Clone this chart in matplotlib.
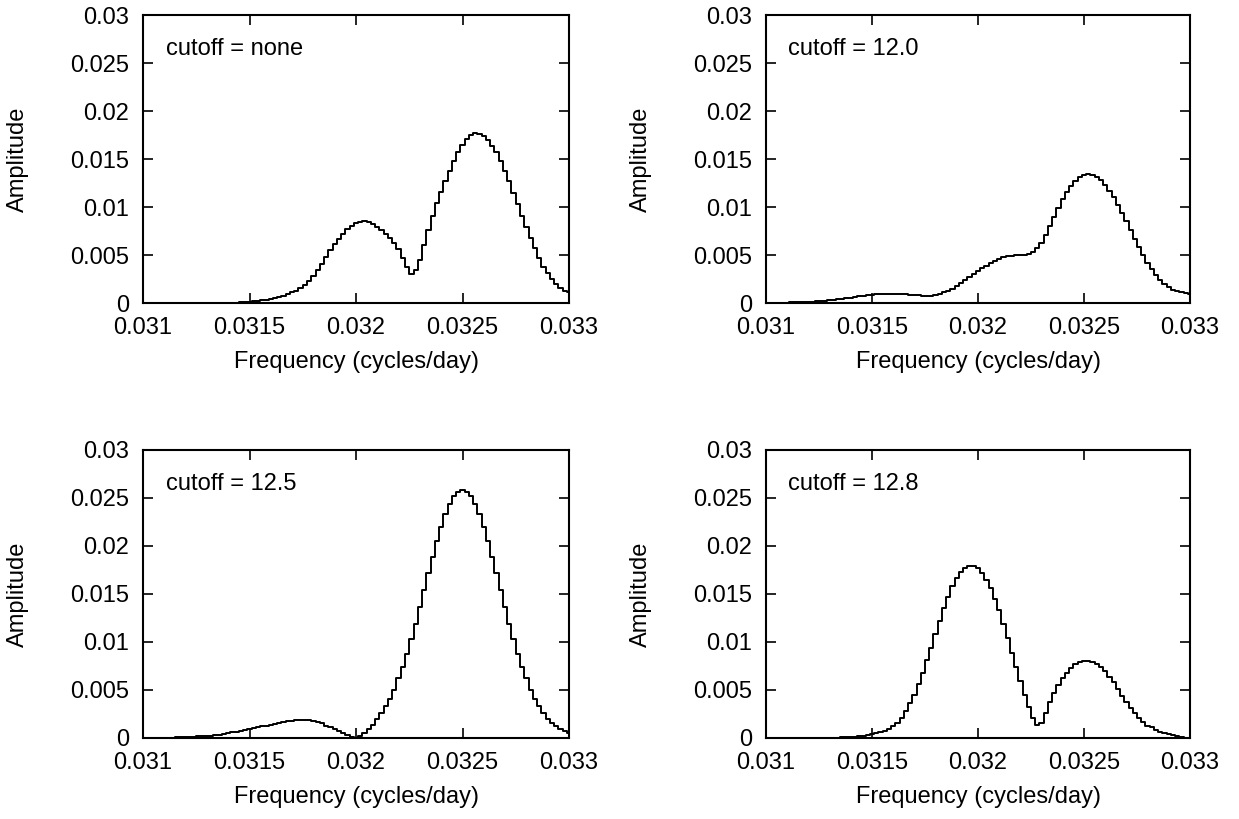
import numpy as np
import matplotlib
matplotlib.use("Agg")
import matplotlib.pyplot as plt
from matplotlib.ticker import FixedLocator, FixedFormatter

plt.rcParams['font.family'] = ['Liberation Sans', 'DejaVu Sans']

# frequency grid (cycles/day), one sample per step
freq = np.linspace(0.031, 0.033, 101)

amp_none = [
    0.0, 0.0, 0.0, 0.0, 0.0, 0.0, 0.0, 0.0, 0.0, 0.0,
    0.0, 0.0, 0.0, 0.0, 0.0, 0.0, 0.0, 0.00001, 0.00001, 0.00002,
    0.00002, 0.00003, 0.00005, 0.00007, 0.0001, 0.00013, 0.00017, 0.00022, 0.00028, 0.00035,
    0.00043, 0.00052, 0.00063, 0.00076, 0.0009, 0.0011, 0.0013, 0.0016, 0.0019, 0.0023,
    0.0028, 0.0034, 0.0041, 0.0048, 0.0055, 0.0061, 0.0067, 0.0072, 0.0077, 0.0080,
    0.0083, 0.0084, 0.0085, 0.0084, 0.0082, 0.0079, 0.0076, 0.0072, 0.0068, 0.0063,
    0.0056, 0.0047, 0.0038, 0.0030, 0.0034, 0.0045, 0.0060, 0.0076, 0.0091, 0.0104,
    0.0116, 0.0127, 0.0138, 0.0148, 0.0157, 0.0165, 0.0171, 0.0175, 0.0177, 0.0176,
    0.0174, 0.0170, 0.0164, 0.0157, 0.0148, 0.0138, 0.0127, 0.0115, 0.0103, 0.0091,
    0.0079, 0.0068, 0.0057, 0.0047, 0.0038, 0.0031, 0.0025, 0.0020, 0.0016, 0.0013,
    0.0011]

amp_120 = [
    0.0, 0.00001, 0.00002, 0.00003, 0.00004, 0.00005, 0.00006, 0.00008, 0.00009, 0.0001,
    0.00012, 0.00014, 0.00017, 0.0002, 0.00024, 0.00028, 0.00033, 0.00038, 0.00044, 0.0005,
    0.00057, 0.00064, 0.0007, 0.00076, 0.00082, 0.00087, 0.00091, 0.00094, 0.00096, 0.00097,
    0.00097, 0.00096, 0.00094, 0.00091, 0.00087, 0.00083, 0.00079, 0.00075, 0.00073, 0.00074,
    0.0008, 0.0009, 0.0011, 0.0013, 0.0015, 0.0018, 0.0021, 0.0024, 0.0027, 0.0030,
    0.0033, 0.0036, 0.0039, 0.0042, 0.0044, 0.0046, 0.0048, 0.0049, 0.0049, 0.0050,
    0.0050, 0.0050, 0.0051, 0.0053, 0.0057, 0.0063, 0.0071, 0.0080, 0.0090, 0.0099,
    0.0108, 0.0116, 0.0122, 0.0127, 0.0131, 0.0133, 0.0134, 0.0133, 0.0131, 0.0128,
    0.0123, 0.0117, 0.0110, 0.0102, 0.0094, 0.0085, 0.0076, 0.0067, 0.0058, 0.0050,
    0.0042, 0.0035, 0.0029, 0.0024, 0.0020, 0.0017, 0.0014, 0.0012, 0.0011, 0.0010,
    0.0009]

amp_125 = [
    0.0, 0.0, 0.00001, 0.00002, 0.00002, 0.00003, 0.00004, 0.00005, 0.00007, 0.00008,
    0.0001, 0.00012, 0.00014, 0.00016, 0.00018, 0.0002, 0.00025, 0.0003, 0.00036, 0.00043,
    0.0005, 0.00058, 0.00066, 0.00074, 0.00082, 0.0009, 0.001, 0.0011, 0.0012, 0.0013,
    0.0014, 0.0015, 0.0016, 0.0017, 0.00175, 0.0018, 0.00187, 0.0019, 0.0019, 0.00187,
    0.0018, 0.0017, 0.00152, 0.0013, 0.0011, 0.0009, 0.0007, 0.0005, 0.0003, 0.00012,
    0.0, 0.0002, 0.0005, 0.0009, 0.0014, 0.0020, 0.0026, 0.0033, 0.0041, 0.0050,
    0.0062, 0.0074, 0.0088, 0.0103, 0.0119, 0.0136, 0.0154, 0.0172, 0.0189, 0.0205,
    0.0220, 0.0233, 0.0244, 0.0252, 0.0256, 0.0258, 0.0256, 0.0252, 0.0244, 0.0233,
    0.0220, 0.0205, 0.0189, 0.0172, 0.0154, 0.0136, 0.0119, 0.0103, 0.0088, 0.0074,
    0.0062, 0.0050, 0.0041, 0.0033, 0.0026, 0.0020, 0.0016, 0.0012, 0.0009, 0.0007,
    0.0005]

amp_128 = [
    0.0, 0.0, 0.0, 0.0, 0.0, 0.0, 0.0, 0.0, 0.00001, 0.00001,
    0.00001, 0.00001, 0.00002, 0.00002, 0.00003, 0.00003, 0.00004, 0.00005, 0.00007, 0.00009,
    0.00012, 0.00015, 0.0002, 0.00025, 0.0003, 0.00038, 0.00048, 0.0006, 0.00075, 0.00094,
    0.0012, 0.0016, 0.0021, 0.0028, 0.0036, 0.0045, 0.0056, 0.0068, 0.0081, 0.0094,
    0.0108, 0.0122, 0.0135, 0.0147, 0.0158, 0.0167, 0.0173, 0.0177, 0.0179, 0.0179,
    0.0177, 0.0172, 0.0165, 0.0156, 0.0145, 0.0133, 0.0119, 0.0104, 0.0089, 0.0074,
    0.0059, 0.0045, 0.0032, 0.0021, 0.0014, 0.0016, 0.0026, 0.0037, 0.0047, 0.0055,
    0.0062, 0.0068, 0.0073, 0.0077, 0.0079, 0.0080, 0.0080, 0.0079, 0.0077, 0.0074,
    0.0070, 0.0064, 0.0058, 0.0051, 0.0044, 0.0037, 0.0031, 0.0026, 0.0021, 0.0017,
    0.0013, 0.0011, 0.0008, 0.0006, 0.0005, 0.0004, 0.0003, 0.0002, 0.0001, 0.00005,
    0.00002]

panel_labels = ["cutoff = none", "cutoff = 12.0", "cutoff = 12.5", "cutoff = 12.8"]
panel_series = [amp_none, amp_120, amp_125, amp_128]

xticks = [0.031, 0.0315, 0.032, 0.0325, 0.033]
xtick_labels = ["0.031", "0.0315", "0.032", "0.0325", "0.033"]
yticks = [0, 0.005, 0.01, 0.015, 0.02, 0.025, 0.03]
ytick_labels = ["0", "0.005", "0.01", "0.015", "0.02", "0.025", "0.03"]

W, H = 1239, 819
fig = plt.figure(figsize=(W / 100, H / 100), dpi=100)

# axes boxes in pixels: left, top, width, height
boxes = [(143, 15, 426, 288), (766, 15, 424, 288),
         (143, 450, 426, 288), (766, 450, 424, 288)]

FS = 17

for (l, t, w, h), label, amp in zip(boxes, panel_labels, panel_series):
    ax = fig.add_axes([l / W, 1 - (t + h) / H, w / W, h / H])
    ax.plot(freq, amp, drawstyle="steps-mid", color="black", lw=1.4)
    ax.set_xlim(0.031, 0.033)
    ax.set_ylim(0, 0.03)
    ax.xaxis.set_major_locator(FixedLocator(xticks))
    ax.xaxis.set_major_formatter(FixedFormatter(xtick_labels))
    ax.yaxis.set_major_locator(FixedLocator(yticks))
    ax.yaxis.set_major_formatter(FixedFormatter(ytick_labels))
    ax.tick_params(direction="in", top=True, right=True, length=7.5,
                   width=1.2, labelsize=FS, pad=10)
    for s in ax.spines.values():
        s.set_linewidth(1.5)
    ax.set_xlabel("Frequency (cycles/day)", fontsize=FS)
    ax.set_ylabel("Amplitude", fontsize=FS)
    ax.xaxis.set_label_coords(0.5, -0.165)
    ax.yaxis.set_label_coords(-0.268, 0.5)
    ax.text(0.053, 0.861, label, transform=ax.transAxes, fontsize=FS,
            ha="left", va="baseline")

fig.savefig("out.png", dpi=100)
